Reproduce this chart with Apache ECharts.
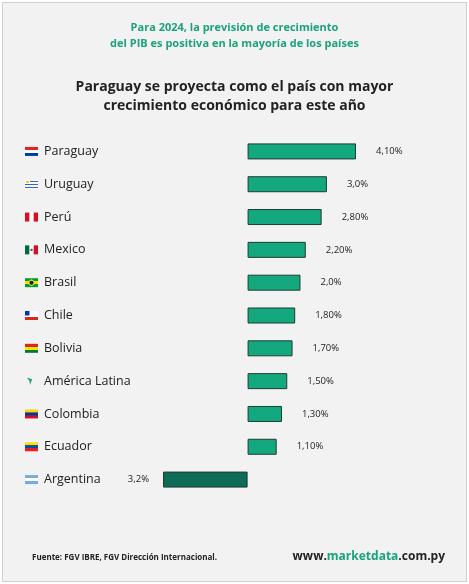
<!DOCTYPE html>
<html><head><meta charset="utf-8">
<script src="https://cdn.jsdelivr.net/npm/echarts@6/dist/echarts.min.js"></script>
<style>html,body{margin:0;padding:0;background:#fff}#c{position:absolute;left:2px;top:2px;width:463px;height:578px;border:1px solid #d0d0d0;background:#f2f2f2}</style>
</head><body><div id="c"></div>
<script>
const categories=["Paraguay","Uruguay","Perú","Mexico","Brasil","Chile","Bolivia","América Latina","Colombia","Ecuador","Argentina"];
const values=[4.1,3.0,2.8,2.2,2.0,1.8,1.7,1.5,1.3,1.1,-3.2];
const valueLabels=["4,10%","3,0%","2,80%","2,20%","2,0%","1,80%","1,70%","1,50%","1,30%","1,10%","3,2%"];
const flagColors=[["#d52b1e","#fff","#0038a8"],["#fff","#2b5fb5","#fff"],["#d91023","#fff","#d91023"],["#006847","#fff","#ce1126"],["#009c3b","#ffdf00","#009c3b"],["#fff","#fff","#d52b1e"],["#d52b1e","#f9e300","#007934"],["#009c3b","#009c3b","#009c3b"],["#fcd116","#003893","#ce1126"],["#ffdd00","#034ea2","#ed1c24"],["#74acdf","#fff","#74acdf"]];
const vertical=[false,false,true,true,false,false,false,false,false,false,false];
function flag(i){
  const c=document.createElement('canvas');c.width=26;c.height=18;const x=c.getContext('2d');const col=flagColors[i];
  if(vertical[i]){col.forEach((k,j)=>{x.fillStyle=k;x.fillRect(j*26/3,0,26/3+0.5,18);});}
  else{col.forEach((k,j)=>{x.fillStyle=k;x.fillRect(0,j*6,26,6.5);});}
  if(i===4){x.fillStyle='#ffdf00';x.beginPath();x.moveTo(13,2);x.lineTo(24,9);x.lineTo(13,16);x.lineTo(2,9);x.fill();x.fillStyle='#002776';x.beginPath();x.arc(13,9,4,0,7);x.fill();}
  if(i===5){x.fillStyle='#fff';x.fillRect(0,0,26,9);x.fillStyle='#0039a6';x.fillRect(0,0,9,9);}
  if(i===1){x.fillStyle='#fff';x.fillRect(0,0,26,18);x.fillStyle='#2b5fb5';[3,9,15].forEach(y=>x.fillRect(0,y-1,26,2));x.fillStyle='#fff';x.fillRect(0,0,10,9);x.fillStyle='#f5b800';x.beginPath();x.arc(5,4.5,2.5,0,7);x.fill();}
  if(i===3){x.fillStyle='#8b5a2b';x.beginPath();x.arc(13,9,2.5,0,7);x.fill();}
  if(i===7){x.clearRect(0,0,26,18);x.fillStyle='#1aa37a';x.beginPath();x.moveTo(4,2);x.lineTo(14,5);x.lineTo(13,9);x.lineTo(10,17);x.lineTo(9,9);x.closePath();x.fill();}
  return c;
}
const rich={name:{fontSize:12.5,color:'#222',fontFamily:'Open Sans',padding:[0,0,0,6]}};
categories.forEach((v,i)=>{rich['f'+i]={width:13,height:9,backgroundColor:{image:flag(i)}};});
const chart=echarts.init(document.getElementById('c'));
chart.setOption({
  backgroundColor:'#f2f2f2',
  animation:false,
  title:[{text:'Para 2024, la previsión de crecimiento\ndel PIB es positiva en la mayoría de los países',left:'center',top:12,
    textStyle:{color:'#1aa37a',fontSize:11,fontWeight:'bold',fontFamily:'Open Sans',lineHeight:16,align:'center'}},
   {text:'Paraguay se proyecta como el país con mayor\ncrecimiento económico para este año',left:'center',top:70,
    textStyle:{color:'#222',fontSize:14,fontWeight:'bold',fontFamily:'Open Sans',lineHeight:19,align:'center'}},
   {text:'Fuente: FGV IBRE, FGV Dirección Internacional.',left:24,top:546,textStyle:{fontSize:8,fontWeight:'bold',color:'#222',fontFamily:'Open Sans'}},
   {text:'{a|www.}{b|marketdata}{a|.com.py}',right:16,top:543,textStyle:{rich:{a:{fontSize:12,fontWeight:'bold',color:'#222',fontFamily:'Open Sans'},b:{fontSize:12,fontWeight:'bold',color:'#1aa37a',fontFamily:'Open Sans'}}}}],
  grid:{left:160,right:110,top:132,bottom:85},
  xAxis:{type:'value',min:-3.2,max:4.1,show:false},
  yAxis:{type:'category',inverse:true,data:categories,axisLine:{show:false},axisTick:{show:false},
    axisLabel:{margin:138,align:'left',formatter:(v)=>{const k=categories.indexOf(v);return `{f${k}|}{name|${v}}`;},rich:rich}},
  series:[{type:'bar',barWidth:16,
    data:values.map((v,i)=>({value:v,itemStyle:{color:v<0?'#0e6b55':'#14a87f',borderColor:'#1f3b33',borderWidth:1},
      label:{show:true,position:v<0?'left':'right',distance:v<0?14:20,formatter:valueLabels[i],fontSize:9.5,color:'#222',fontFamily:'Open Sans'}}))}]
});
</script></body></html>
